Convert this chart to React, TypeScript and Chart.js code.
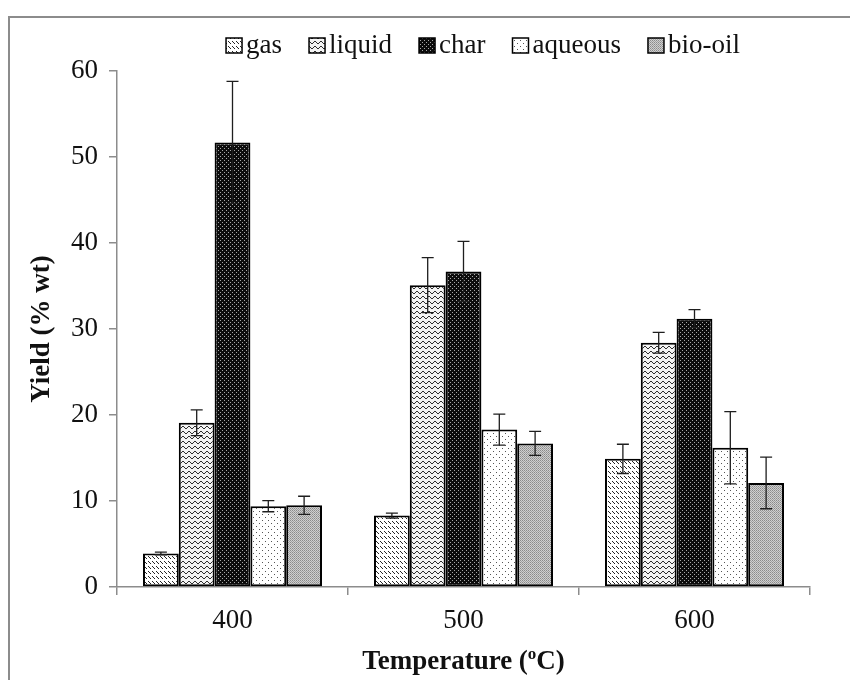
import { useEffect, useRef } from "react";
import { Chart, registerables } from "chart.js";

Chart.register(...registerables);

// Pyrolysis product yields by temperature (% wt) with standard deviations
const temperatures = ["400", "500", "600"];
const seriesNames = ["gas", "liquid", "char", "aqueous", "bio-oil"];

const gasYield = [3.9, 8.3, 14.9];
const liquidYield = [19.1, 35.1, 28.4];
const charYield = [51.7, 36.7, 31.2];
const aqueousYield = [9.4, 18.3, 16.2];
const bioOilYield = [9.5, 16.7, 12.1];

const gasErr = [0.15, 0.3, 1.7];
const liquidErr = [1.5, 3.2, 1.2];
const charErr = [7.1, 3.5, 1.05];
const aqueousErr = [0.65, 1.8, 4.2];
const bioOilErr = [1.05, 1.4, 3.0];

const yMin = 0;
const yMax = 60;
const yStep = 10;

const yieldSeries = [gasYield, liquidYield, charYield, aqueousYield, bioOilYield];
const errorSeries = [gasErr, liquidErr, charErr, aqueousErr, bioOilErr];

const SERIF = "'Liberation Serif', 'Times New Roman', serif";

type Px = [number, number, string];

function tile(
  ctx: CanvasRenderingContext2D,
  w: number,
  h: number,
  bg: string,
  pixels: Px[]
): CanvasPattern {
  const c = document.createElement("canvas");
  c.width = w;
  c.height = h;
  const g = c.getContext("2d")!;
  g.fillStyle = bg;
  g.fillRect(0, 0, w, h);
  for (const [x, y, col] of pixels) {
    g.fillStyle = col;
    g.fillRect(x, y, 1, 1);
  }
  return ctx.createPattern(c, "repeat")!;
}

function makeFills(ctx: CanvasRenderingContext2D): CanvasPattern[] {
  const dk = "#262626";
  // gas: rows of short back-slash strokes
  const gas = tile(ctx, 4, 5, "#ffffff", [
    [0, 1, dk],
    [1, 2, dk],
    [2, 3, dk],
  ]);
  // liquid: horizontal zigzag lines
  const zig = [3, 2, 1, 1, 2, 3];
  const liquid = tile(
    ctx,
    6,
    5,
    "#f4f4f4",
    zig.map((y, x) => [x, y, "#2e2e2e"] as Px)
  );
  // char: black with fine light dots
  const char = tile(ctx, 4, 4, "#0c0c0c", [
    [0, 0, "#a8a8a8"],
    [2, 2, "#a8a8a8"],
  ]);
  // aqueous: white with sparse dots
  const aqueous = tile(ctx, 6, 6, "#ffffff", [
    [1, 1, "#555555"],
    [4, 4, "#555555"],
  ]);
  // bio-oil: light grey fine texture
  const bioOil = tile(ctx, 2, 2, "#cfcfcf", [
    [0, 0, "#8a8a8a"],
    [1, 1, "#a0a0a0"],
  ]);
  return [gas, liquid, char, aqueous, bioOil];
}

const framePlugin = {
  id: "frame",
  beforeDraw(chart: any) {
    const { ctx, width, height } = chart;
    ctx.save();
    ctx.fillStyle = "#ffffff";
    ctx.fillRect(0, 0, width, height);
    ctx.strokeStyle = "#8c8c8c";
    ctx.lineWidth = 2;
    ctx.beginPath();
    ctx.moveTo(9, height);
    ctx.lineTo(9, 17);
    ctx.lineTo(width, 17);
    ctx.stroke();
    ctx.restore();
  },
};

const errorBarPlugin = {
  id: "errorBars",
  afterDatasetsDraw(chart: any) {
    const { ctx } = chart;
    const yScale = chart.scales.y;
    chart.data.datasets.forEach((ds: any, i: number) => {
      const meta = chart.getDatasetMeta(i);
      const errs = errorSeries[i];
      meta.data.forEach((bar: any, j: number) => {
        const v = ds.data[j] as number;
        const e = errs[j];
        const x = bar.x;
        const top = yScale.getPixelForValue(v + e);
        const bot = yScale.getPixelForValue(v - e);
        ctx.save();
        ctx.strokeStyle = "#1e1e1e";
        ctx.lineWidth = 1.3;
        ctx.beginPath();
        ctx.moveTo(x, top);
        ctx.lineTo(x, bot);
        ctx.moveTo(x - 6, top);
        ctx.lineTo(x + 6, top);
        ctx.moveTo(x - 6, bot);
        ctx.lineTo(x + 6, bot);
        ctx.stroke();
        ctx.restore();
      });
    });
  },
};

const legendPlugin = {
  id: "patternLegend",
  afterDraw(chart: any) {
    const { ctx } = chart;
    const boxW = 16;
    const boxH = 15;
    const textGap = 4;
    const itemGap = 27;
    const baseline = 53;
    ctx.save();
    ctx.font = `27px ${SERIF}`;
    const items = chart.data.datasets.map((ds: any) => ({
      label: ds.label as string,
      fill: ds.backgroundColor,
      w: ctx.measureText(ds.label).width,
    }));
    const total =
      items.reduce((s: number, it: any) => s + boxW + textGap + it.w, 0) +
      itemGap * (items.length - 1);
    let x = 483 - total / 2;
    for (const it of items) {
      ctx.fillStyle = it.fill;
      ctx.fillRect(x, baseline - boxH, boxW, boxH);
      ctx.strokeStyle = "#000000";
      ctx.lineWidth = 1.5;
      ctx.strokeRect(x, baseline - boxH, boxW, boxH);
      ctx.fillStyle = "#111111";
      ctx.textBaseline = "alphabetic";
      ctx.textAlign = "left";
      ctx.fillText(it.label, x + boxW + textGap, baseline);
      x += boxW + textGap + it.w + itemGap;
    }
    ctx.restore();
  },
};

const xTitlePlugin = {
  id: "xTitle",
  afterDraw(chart: any) {
    const { ctx, chartArea } = chart;
    const big = `bold 27px ${SERIF}`;
    const small = `bold 17px ${SERIF}`;
    const a = "Temperature (";
    const o = "o";
    const c = "C)";
    ctx.save();
    ctx.fillStyle = "#111111";
    ctx.textBaseline = "alphabetic";
    ctx.textAlign = "left";
    ctx.font = big;
    const wa = ctx.measureText(a).width;
    const wc = ctx.measureText(c).width;
    ctx.font = small;
    const wo = ctx.measureText(o).width;
    const total = wa + wo + wc;
    const baseline = 669;
    let x = (chartArea.left + chartArea.right) / 2 - total / 2;
    ctx.font = big;
    ctx.fillText(a, x, baseline);
    x += wa;
    ctx.font = small;
    ctx.fillText(o, x, baseline - 10);
    x += wo;
    ctx.font = big;
    ctx.fillText(c, x, baseline);
    ctx.restore();
  },
};

export default function App() {
  const canvasRef = useRef<HTMLCanvasElement | null>(null);

  useEffect(() => {
    document.body.style.margin = "0";
    const canvas = canvasRef.current!;
    const ctx = canvas.getContext("2d")!;
    const fills = makeFills(ctx);

    const axisGrey = "#8c8c8c";

    const chart = new Chart(canvas, {
      type: "bar",
      data: {
        labels: temperatures,
        datasets: seriesNames.map((name, i) => ({
          label: name,
          data: yieldSeries[i],
          backgroundColor: fills[i] as any,
          borderColor: "#000000",
          borderWidth: 2,
          borderSkipped: false,
          categoryPercentage: 0.775,
          barPercentage: 1,
        })),
      },
      options: {
        animation: false,
        responsive: false,
        maintainAspectRatio: false,
        devicePixelRatio: 1,
        layout: { padding: { top: 71, right: 40, bottom: 0, left: 0 } },
        plugins: {
          legend: { display: false },
          tooltip: { enabled: false },
          title: { display: false },
        },
        scales: {
          x: {
            afterFit: (scale: any) => {
              scale.height = 93;
            },
            grid: {
              offset: true,
              drawOnChartArea: false,
              drawTicks: true,
              tickLength: 8,
              color: axisGrey,
              lineWidth: 1.5,
            },
            border: { display: true, color: axisGrey, width: 1.5 },
            ticks: {
              color: "#111111",
              font: { family: SERIF, size: 27 },
              padding: 10,
            },
          },
          y: {
            min: yMin,
            max: yMax,
            afterFit: (scale: any) => {
              scale.width = 117;
            },
            grid: {
              drawOnChartArea: false,
              drawTicks: true,
              tickLength: 8,
              color: axisGrey,
              lineWidth: 1.5,
            },
            border: { display: true, color: axisGrey, width: 1.5 },
            ticks: {
              stepSize: yStep,
              color: "#111111",
              font: { family: SERIF, size: 27 },
              padding: 11,
            },
            title: {
              display: true,
              text: "Yield (% wt)",
              color: "#111111",
              font: { family: SERIF, size: 27, weight: "bold" },
              padding: { top: 26, bottom: 0 },
            },
          },
        },
      },
      plugins: [framePlugin, errorBarPlugin, legendPlugin, xTitlePlugin],
    });

    return () => chart.destroy();
  }, []);

  return (
    <div style={{ width: 850, height: 680 }}>
      <canvas ref={canvasRef} width={850} height={680} style={{ display: "block" }} />
    </div>
  );
}
